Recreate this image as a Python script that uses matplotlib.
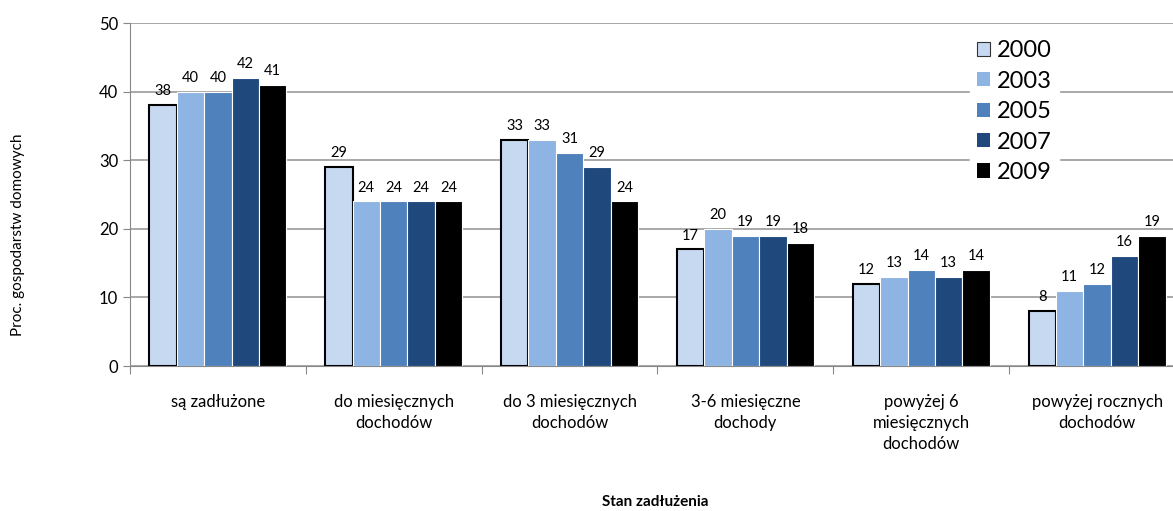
import numpy as np
import matplotlib.pyplot as plt

plt.rcParams['font.family'] = ['Lato', 'DejaVu Sans']

categories = ['są zadłużone', 'do miesięcznych\ndochodów', 'do 3 miesięcznych\ndochodów',
              '3-6 miesięczne\ndochody', 'powyżej 6\nmiesięcznych\ndochodów',
              'powyżej rocznych\ndochodów']
years = ['2000', '2003', '2005', '2007', '2009']
v2000 = [38, 29, 33, 17, 12, 8]
v2003 = [40, 24, 33, 20, 13, 11]
v2005 = [40, 24, 31, 19, 14, 12]
v2007 = [42, 24, 29, 19, 13, 16]
v2009 = [41, 24, 24, 18, 14, 19]
series = [v2000, v2003, v2005, v2007, v2009]
colors = ['#C6D9F1', '#8DB4E2', '#4F81BD', '#1F497D', '#000000']

fig = plt.figure(figsize=(11.73, 5.11), dpi=100)
ax = fig.add_axes([130 / 1173, 145 / 511, 1055 / 1173, 343 / 511])

x = np.arange(len(categories))
w = 0.156
for i, (vals, c) in enumerate(zip(series, colors)):
    pos = x + (i - 2) * w
    ec = 'black' if i == 0 else 'white'
    lw = 1.5 if i == 0 else 0.8
    bars = ax.bar(pos, vals, width=w, color=c, edgecolor=ec, linewidth=lw,
                  label=years[i], zorder=3)
    for b, v in zip(bars, vals):
        ax.text(b.get_x() + b.get_width() / 2, v + 1.0, str(v),
                ha='center', va='bottom', fontsize=10.5, zorder=4)

ax.set_xlim(-0.5, len(categories) - 0.5)
ax.set_ylim(0, 50)
ax.set_yticks(range(0, 51, 10))
ax.set_xticks(np.arange(-0.5, len(categories), 1.0), minor=False)
ax.set_xticklabels([])
ax.set_xticks(x, minor=True)
ax.set_xticklabels(categories, minor=True, fontsize=12, linespacing=1.4)
ax.tick_params(axis='x', which='minor', length=0, pad=20)
ax.tick_params(axis='x', which='major', length=6, color='#888888', direction='out')
ax.tick_params(axis='y', length=5, color='#888888', labelsize=12)

ax.grid(axis='y', color='#999999', linewidth=1.2, zorder=0)
for s in ['top', 'right']:
    ax.spines[s].set_visible(False)
ax.spines['left'].set_color('#888888')
ax.spines['bottom'].set_color('#888888')

fig.text(18 / 1173, 1 - 235 / 511, 'Proc. gospodarstw domowych', fontsize=11,
         rotation=90, ha='center', va='center')
fig.text(655 / 1173, 1 - 502 / 511, 'Stan zadłużenia', fontsize=11,
         fontweight='bold', ha='center', va='center')

leg = ax.legend(loc='upper left', bbox_to_anchor=(0.785, 1.005), fontsize=17,
                frameon=True, framealpha=1, edgecolor='white', fancybox=False,
                handlelength=0.55, handleheight=0.55, handletextpad=0.3,
                labelspacing=0.4, borderpad=0.3)
leg.set_zorder(5)
for i, h in enumerate(leg.legend_handles):
    if i == 0:
        h.set_edgecolor('#333333')
        h.set_linewidth(0.8)
    else:
        h.set_edgecolor('none')

fig.savefig('out.png', dpi=100)
